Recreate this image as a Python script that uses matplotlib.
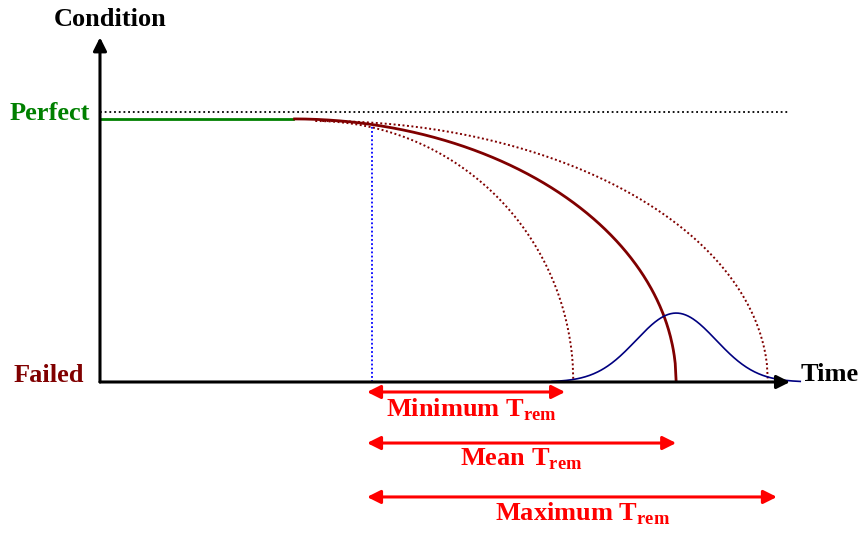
import numpy as np
import matplotlib.pyplot as plt

plt.rcParams['font.family'] = ['Liberation Serif', 'DejaVu Serif']
plt.rcParams['font.weight'] = 'bold'
plt.rcParams['mathtext.fontset'] = 'custom'
plt.rcParams['mathtext.rm'] = 'Liberation Serif:bold'
plt.rcParams['mathtext.bf'] = 'Liberation Serif:bold'

# ---------------------------------- schematic values (time / condition units)
perfect = 1.0
failed = 0.0
t_axis_end = 10.0
c_axis_end = 1.31
perfect_ref = 1.027

mean_onset = 2.8
band_onsets = [3.12, 3.22]          # min, max curves
band_top = 0.992
t_now = 3.94
t_fail = [6.86, 8.35, 9.68]         # minimum, mean, maximum
pdf_sigma = 0.58
pdf_peak = 0.262

arrow_ends = [6.74, 8.35, 9.81]
arrow_start = 3.87
arrow_levels = [-0.038, -0.232, -0.437]
arrow_labels = [r"Minimum T$_{\rm rem}$", r"Mean T$_{\rm rem}$",
                r"Maximum T$_{\rm rem}$"]
label_x = [5.38, 6.1, 7.0]
label_y = [-0.106, -0.295, -0.5]

BROWN = '#800000'
RED = '#ff0000'
FS = 19


def quarter_ellipse(t0, t1, top):
    t = np.linspace(t0, t1, 400)
    c = top * np.sqrt(np.clip(1 - ((t - t0) / (t1 - t0))**2, 0, 1))
    return t, c


fig = plt.figure(figsize=(8.6, 5.33), dpi=100)
ax = fig.add_axes([0, 0, 1, 1])
ax.set_xlim(-1.449, 11.014)
ax.set_ylim(-0.574, 1.452)
ax.axis('off')

#---------------------------------- axes with arrow heads
ax.annotate('', xy=(t_axis_end, failed), xytext=(0, failed),
            arrowprops=dict(arrowstyle='-|>', color='black', lw=2.2,
                            mutation_scale=20, shrinkA=0, shrinkB=0))
ax.annotate('', xy=(0, c_axis_end), xytext=(0, failed),
            arrowprops=dict(arrowstyle='-|>', color='black', lw=2.2,
                            mutation_scale=20, shrinkA=0, shrinkB=0))

# perfect reference
ax.plot([0, t_axis_end], [perfect_ref, perfect_ref], color='black',
        lw=1.3, linestyle=(0, (1, 1.6)))
ax.plot([0, mean_onset], [perfect, perfect], color='#008000', lw=2)

# degradation curves
t, c = quarter_ellipse(mean_onset, t_fail[1], perfect)
ax.plot(t, c, color=BROWN, lw=2, solid_capstyle='butt')
for t0, t1 in zip(band_onsets, [t_fail[0], t_fail[2]]):
    t, c = quarter_ellipse(t0, t1, band_top)
    ax.plot(t, c, color=BROWN, lw=1.4, linestyle=(0, (1, 1.3)))

# now line
c_now = perfect * np.sqrt(1 - ((t_now - mean_onset) / (t_fail[1] - mean_onset))**2)
ax.plot([t_now, t_now], [failed, c_now], color='#0000ff', lw=1.3,
        linestyle=(0, (1, 1.3)))

# failure time distribution
tp = np.linspace(t_fail[1] - 3.1 * pdf_sigma, t_fail[1] + 3.1 * pdf_sigma, 300)
ax.plot(tp, pdf_peak * np.exp(-0.5 * ((tp - t_fail[1]) / pdf_sigma)**2),
        color='#000080', lw=1.2)

# remaining life arrows
for xe, yl, lab, lx, ly in zip(arrow_ends, arrow_levels, arrow_labels,
                               label_x, label_y):
    ax.annotate('', xy=(xe, yl), xytext=(arrow_start, yl),
                arrowprops=dict(arrowstyle='<|-|>', color=RED, lw=2.2,
                                mutation_scale=20, shrinkA=0, shrinkB=0))
    ax.text(lx, ly, lab, color=RED, fontsize=FS, ha='center', va='center')

ax.text(0.15, 1.376, 'Condition', fontsize=FS, ha='center', va='center')
ax.text(-0.73, 1.02, 'Perfect', fontsize=FS, color='#008000',
        ha='center', va='center')
ax.text(-0.74, 0.024, 'Failed', fontsize=FS, color=BROWN,
        ha='center', va='center')
ax.text(10.15, 0.03, 'Time', fontsize=FS, ha='left', va='center')

fig.savefig('out.png', dpi=100)
